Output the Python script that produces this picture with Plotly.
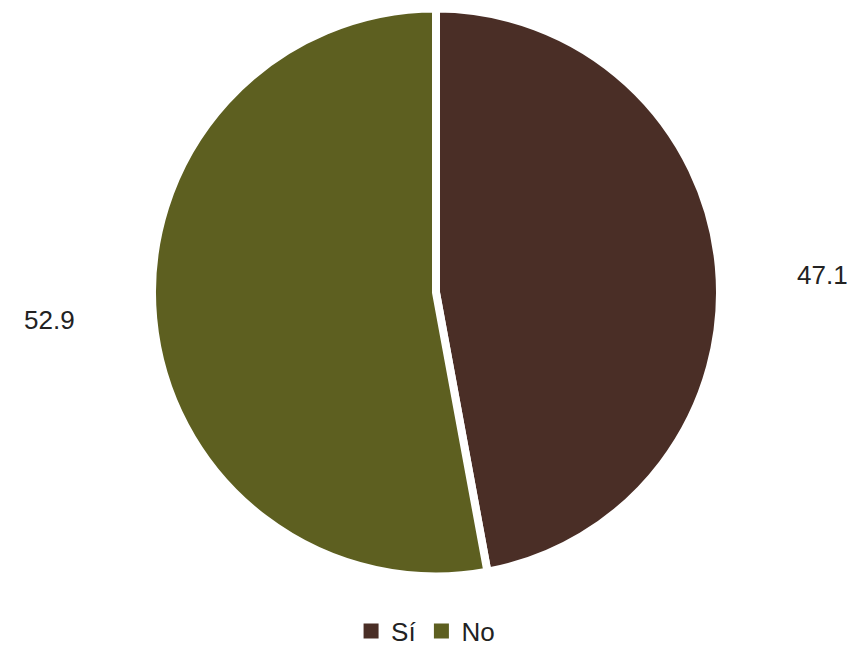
import math
import plotly.graph_objects as go

labels = ["Sí", "No"]
values = [47.1, 52.9]
colors = ["#4a2e26", "#5d5f20"]

# page has an 8px body margin; figure is sized to fit the window
OFF = 8
W, H = 855 - OFF, 649 - OFF
cx, cy, R = 436 - OFF, 292.5 - OFF, 284  # pixel center and domain radius inside figure

fig = go.Figure()
fig.add_trace(go.Pie(
    labels=labels, values=values, sort=False, direction="clockwise", rotation=0,
    marker=dict(colors=colors, line=dict(color="white", width=8)),
    textinfo="none", hoverinfo="label+value", showlegend=False,
    domain=dict(x=[(cx - R) / W, (cx + R) / W], y=[1 - (cy + R) / H, 1 - (cy - R) / H]),
))

# legend entries with solid square swatches
for lab, col in zip(labels, colors):
    fig.add_trace(go.Scatter(
        x=[None], y=[None], mode="markers", name=lab,
        marker=dict(symbol="square", size=15, color=col),
        hoverinfo="skip",
    ))

# value labels placed outside each slice at its mid-angle
total = sum(values)
cum = 0
annotations = []
for lab, v in zip(labels, values):
    mid = (cum + v / 2) / total * 2 * math.pi
    cum += v
    sx = math.sin(mid)
    px = cx + 1.27 * R * sx
    py = cy - 0.87 * R * math.cos(mid)
    annotations.append(dict(
        x=px / W, y=1 - py / H, xref="paper", yref="paper",
        text=f"{v:.1f}", showarrow=False, yshift=-5,
        font=dict(family="Liberation Sans, Arial", size=26, color="#222222"),
        xanchor="left" if sx > 0 else "right", yanchor="middle",
    ))

fig.update_layout(
    width=W, height=H,
    margin=dict(l=0, r=0, t=0, b=0, autoexpand=False),
    paper_bgcolor="white", plot_bgcolor="white",
    annotations=annotations,
    showlegend=True,
    xaxis=dict(visible=False), yaxis=dict(visible=False),
    legend=dict(orientation="h", x=0.493, xanchor="center", y=1 - 623 / H, yanchor="middle",
                font=dict(family="Liberation Sans, Arial", size=26, color="#222222"),
                itemclick=False, itemwidth=30, tracegroupgap=0),
)
fig.write_html("out.html")
